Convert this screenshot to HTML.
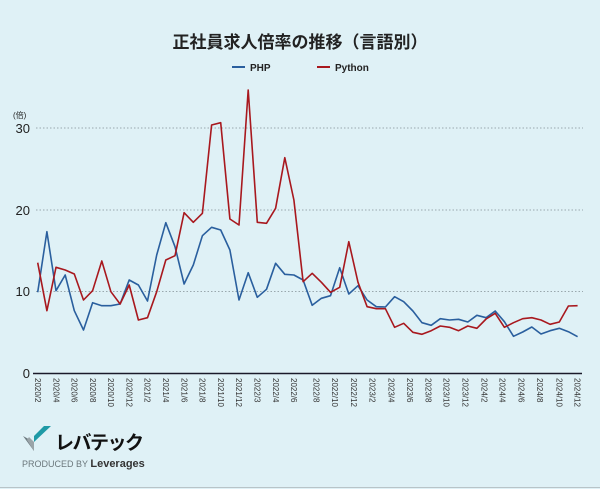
<!DOCTYPE html>
<html><head><meta charset="utf-8"><style>
body{margin:0;background:#dff1f6;}
svg{display:block;font-family:"Liberation Sans","Noto Sans CJK JP",sans-serif;}
</style></head><body>
<svg width="600" height="489" viewBox="0 0 600 489">
<rect width="600" height="489" fill="#dff1f6"/>
<text x="300" y="48" text-anchor="middle" font-size="17" font-weight="bold" fill="#222">正社員求人倍率の推移（言語別）</text>
<line x1="232" y1="67" x2="245" y2="67" stroke="#2a5f9e" stroke-width="2"/>
<text x="250" y="71" font-size="10" font-weight="bold" fill="#222">PHP</text>
<line x1="317" y1="67" x2="330" y2="67" stroke="#a8181e" stroke-width="2"/>
<text x="335" y="71" font-size="10" font-weight="bold" fill="#222">Python</text>
<g stroke="#9aa8ad" stroke-dasharray="1.5,2" stroke-width="1">
<line x1="36" y1="128" x2="583" y2="128"/>
<line x1="36" y1="210" x2="583" y2="210"/>
<line x1="36" y1="291.5" x2="583" y2="291.5"/>
</g>
<g font-size="13" fill="#222" text-anchor="end">
<text x="30" y="133">30</text><text x="30" y="215">20</text><text x="30" y="296">10</text><text x="30" y="378">0</text>
</g>
<text x="13" y="118" font-size="8" fill="#222">(倍)</text>
<line x1="33" y1="373.5" x2="582" y2="373.5" stroke="#1a1a2a" stroke-width="1.5"/>
<polyline fill="none" stroke="#2a5f9e" stroke-width="1.6" stroke-linejoin="round" points="
37.7,292.3 46.9,231.7 56,290.7 65.2,275 74.3,310.7 83.5,330 92.6,302.7 101.8,305.7 110.9,305.7 120.1,304 129.2,280 138.4,285 147.5,301 156.7,255 165.8,222.7 175,246.7 184.1,284 193.3,265 202.4,235.7 211.6,227.3 220.7,230 229.9,250 239,300 248.2,272.7 257.3,297.3 266.5,289.3 275.6,263.3 284.8,274.3 293.9,275
303.1,280 312.2,305.3 321.4,298.3 330.5,295.7 339.7,267.7 348.8,294 358,285.7 367.1,300 376.3,306.7 385.4,307 394.6,296.7 403.7,301.7 412.9,311 422,322.7 431.2,325.3 440.3,318.7 449.5,320 458.6,319.3 467.8,322 476.9,315.3 486.1,317.7 495.2,311 504.4,321.7 513.5,336.3 522.7,332 531.8,327 541,334 550.1,330.7 559.3,328.3 568.4,331.7 577.6,336.7"/>
<polyline fill="none" stroke="#a8181e" stroke-width="1.6" stroke-linejoin="round" points="
37.7,262.7 46.9,310.7 56,267.3 65.2,270 74.3,274 83.5,300 92.6,290.7 101.8,261 110.9,291.7 120.1,304 129.2,285 138.4,320 147.5,317.7 156.7,291.7 165.8,260 175,255.7 184.1,212.7 193.3,222.3 202.4,213.3 211.6,125 220.7,122.7 229.9,219 239,225 248.2,90 257.3,222.3 266.5,223.3 275.6,208.3 284.8,157.7 293.9,200
303.1,281.7 312.2,273.3 321.4,282.3 330.5,292.3 339.7,287.3 348.8,241.7 358,282.3 367.1,306.7 376.3,308.7 385.4,308.7 394.6,327.3 403.7,323.3 412.9,332.3 422,334.3 431.2,330.7 440.3,326 449.5,327.3 458.6,330.7 467.8,326 476.9,328.3 486.1,319 495.2,313.3 504.4,327.3 513.5,322.7 522.7,318.7 531.8,317.7 541,320 550.1,324.3 559.3,322 568.4,306 577.6,305.7"/>
<g font-size="8" fill="#333">
<text transform="translate(35,378) rotate(90)">2020/2</text>
<text transform="translate(53.3,378) rotate(90)">2020/4</text>
<text transform="translate(71.5,378) rotate(90)">2020/6</text>
<text transform="translate(89.8,378) rotate(90)">2020/8</text>
<text transform="translate(108.1,378) rotate(90)">2020/10</text>
<text transform="translate(126.4,378) rotate(90)">2020/12</text>
<text transform="translate(144.7,378) rotate(90)">2021/2</text>
<text transform="translate(163,378) rotate(90)">2021/4</text>
<text transform="translate(181.3,378) rotate(90)">2021/6</text>
<text transform="translate(199.6,378) rotate(90)">2021/8</text>
<text transform="translate(217.9,378) rotate(90)">2021/10</text>
<text transform="translate(236.2,378) rotate(90)">2021/12</text>
<text transform="translate(254.5,378) rotate(90)">2022/3</text>
<text transform="translate(272.8,378) rotate(90)">2022/4</text>
<text transform="translate(291.1,378) rotate(90)">2022/6</text>
<text transform="translate(313.7,378) rotate(90)">2022/8</text>
<text transform="translate(332,378) rotate(90)">2022/10</text>
<text transform="translate(351,378) rotate(90)">2022/12</text>
<text transform="translate(369.7,378) rotate(90)">2023/2</text>
<text transform="translate(388.7,378) rotate(90)">2023/4</text>
<text transform="translate(407,378) rotate(90)">2023/6</text>
<text transform="translate(425.3,378) rotate(90)">2023/8</text>
<text transform="translate(443.7,378) rotate(90)">2023/10</text>
<text transform="translate(462.7,378) rotate(90)">2023/12</text>
<text transform="translate(481.3,378) rotate(90)">2024/2</text>
<text transform="translate(499.7,378) rotate(90)">2024/4</text>
<text transform="translate(518.7,378) rotate(90)">2024/6</text>
<text transform="translate(537,378) rotate(90)">2024/8</text>
<text transform="translate(556.3,378) rotate(90)">2024/10</text>
<text transform="translate(574.3,378) rotate(90)">2024/12</text>
</g>
<polygon points="23,436 34,442 34,451" fill="#6e7b80"/>
<polygon points="34,442 51,426 44,426 34,436" fill="#1e9aa6"/>
<polygon points="29,437 34,442 34,451 27,440" fill="#9aa4a8"/>
<text x="55" y="449" font-size="19" font-weight="bold" fill="#111" letter-spacing="-1.5">レバテック</text>
<text x="22" y="467" font-size="9" fill="#6b777c">PRODUCED BY <tspan font-size="11" font-weight="bold" fill="#333">Leverages</tspan></text>
<line x1="0" y1="487.5" x2="600" y2="487.5" stroke="#b8c4c8" stroke-width="1"/>
</svg>
</body></html>
